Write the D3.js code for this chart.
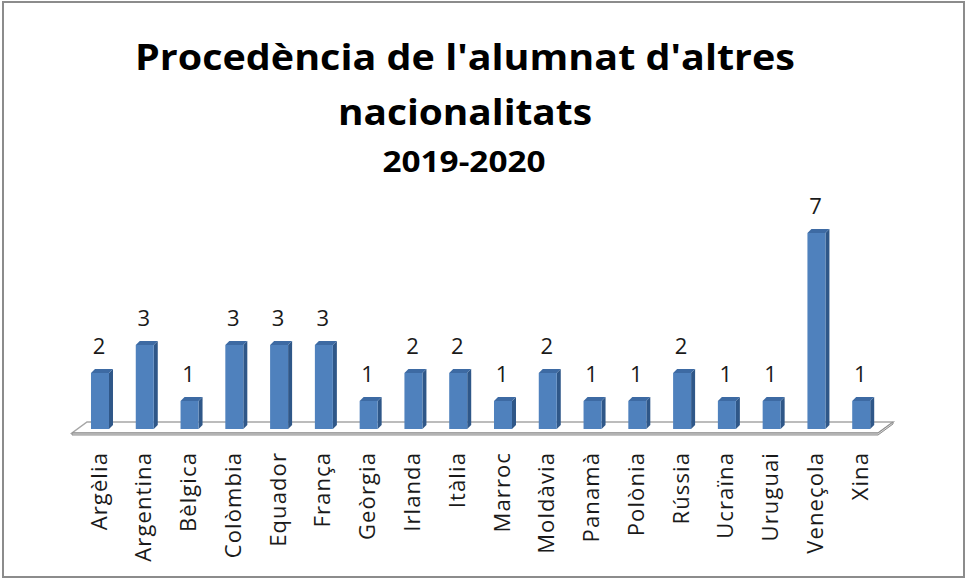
<!DOCTYPE html>
<html>
<head>
<meta charset="utf-8">
<script src="https://cdn.jsdelivr.net/npm/d3@7"></script>
<style>
  body { margin: 0; background: #fff; }
  svg { display: block; }
</style>
</head>
<body>
<div id="grafico"></div>
<script>
// Dades del gràfic
var paisos = ["Argèlia", "Argentina", "Bèlgica", "Colòmbia", "Equador", "França", "Geòrgia", "Irlanda", "Itàlia",
  "Marroc", "Moldàvia", "Panamà", "Polònia", "Rússia", "Ucraïna", "Uruguai", "Veneçola", "Xina"];
var alumnes = [2, 3, 1, 3, 3, 3, 1, 2, 2, 1, 2, 1, 1, 2, 1, 1, 7, 1];
var titol = ["Procedència de l'alumnat d'altres", "nacionalitats"];
var subtitol = "2019-2020";

var width = 967;
var height = 580;

var svg = d3.select("#grafico")
  .append("svg")
  .attr("width", width)
  .attr("height", height);

// marc exterior
svg.append("rect")
  .attr("x", 3).attr("y", 2)
  .attr("width", 961).attr("height", 575)
  .attr("fill", "#fff")
  .attr("stroke", "#8c8c8c")
  .attr("stroke-width", 2);

// títol
var font = "'Open Sans', 'Noto Sans', sans-serif";
svg.append("text")
  .attr("x", 465).attr("y", 70)
  .attr("text-anchor", "middle")
  .attr("font-family", font).attr("font-weight", "bold").attr("font-size", 36)
  .attr("textLength", 660).attr("lengthAdjust", "spacingAndGlyphs")
  .text(titol[0]);
svg.append("text")
  .attr("x", 465).attr("y", 125)
  .attr("text-anchor", "middle")
  .attr("font-family", font).attr("font-weight", "bold").attr("font-size", 36)
  .attr("textLength", 254).attr("lengthAdjust", "spacingAndGlyphs")
  .text(titol[1]);
svg.append("text")
  .attr("x", 464).attr("y", 172)
  .attr("text-anchor", "middle")
  .attr("font-family", font).attr("font-weight", "bold").attr("font-size", 28)
  .attr("textLength", 163).attr("lengthAdjust", "spacingAndGlyphs")
  .text(subtitol);

// escales
var x = d3.scaleBand().domain(paisos).range([72, 878]);
var y = d3.scaleLinear().domain([0, 7]).range([429, 233]);

// profunditat del terra i de les barres
var fons = { dx: 15, dy: -11 };
var despl = { dx: 5.6, dy: 0 };
var amplada = 18;
var prof = 4;

// terra 3D
var yTerra = 433;
var x0 = x.range()[0], x1 = x.range()[1];
svg.append("path")
  .attr("d", "M" + x0 + "," + yTerra + "L" + x1 + "," + yTerra +
    "L" + (x1 + fons.dx) + "," + (yTerra + fons.dy) +
    "L" + (x0 + fons.dx) + "," + (yTerra + fons.dy) + "Z")
  .attr("fill", "#fff")
  .attr("stroke", "#a6a6a6")
  .attr("stroke-width", 1.5);
svg.append("path")
  .attr("d", "M" + x0 + "," + yTerra + "L" + x1 + "," + yTerra +
    "L" + (x1 + fons.dx) + "," + (yTerra + fons.dy) +
    "L" + (x1 + fons.dx) + "," + (yTerra + fons.dy + 2) +
    "L" + x1 + "," + (yTerra + 2) + "L" + x0 + "," + (yTerra + 2) + "Z")
  .attr("fill", "#d9d9d9")
  .attr("stroke", "#8c8c8c")
  .attr("stroke-width", 1);

var dades = paisos.map(function(p, i) { return { pais: p, valor: alumnes[i] }; });

var barres = svg.selectAll(".barra")
  .data(dades)
  .enter()
  .append("g")
  .attr("class", "barra");

function esquerra(d) { return x(d.pais) + x.bandwidth() / 2 + despl.dx - amplada / 2; }

// cara lateral
barres.append("path")
  .attr("d", function(d) {
    var xr = esquerra(d) + amplada, yt = y(d.valor), yb = y(0);
    return "M" + xr + "," + yb + "L" + xr + "," + yt + "L" + (xr + prof) + "," + (yt - prof) +
      "L" + (xr + prof) + "," + (yb - prof) + "Z";
  })
  .attr("fill", "#2f5788");

// cara superior
barres.append("path")
  .attr("d", function(d) {
    var xl = esquerra(d), yt = y(d.valor);
    return "M" + xl + "," + yt + "L" + (xl + amplada) + "," + yt + "L" + (xl + amplada + prof) + "," + (yt - prof) +
      "L" + (xl + prof) + "," + (yt - prof) + "Z";
  })
  .attr("fill", "#3d6aa3");

// cara frontal
barres.append("rect")
  .attr("x", esquerra)
  .attr("y", function(d) { return y(d.valor); })
  .attr("width", amplada)
  .attr("height", function(d) { return y(0) - y(d.valor); })
  .attr("fill", "#4f81bd");

// etiquetes de valor
barres.append("text")
  .attr("x", function(d) { return esquerra(d) + amplada / 2 - 1; })
  .attr("y", function(d) { return y(d.valor) - prof - 15; })
  .attr("text-anchor", "middle")
  .attr("font-family", font)
  .attr("font-size", 22)
  .attr("fill", "#1a1a1a")
  .text(function(d) { return d.valor; });

// eix de categories
var eix = svg.append("g")
  .attr("transform", "translate(" + despl.dx + ",452)")
  .call(d3.axisBottom(x).tickSize(0).tickPadding(0));
eix.select(".domain").remove();
eix.selectAll("text")
  .attr("font-family", font)
  .attr("font-size", 22)
  .attr("letter-spacing", 1.1)
  .attr("fill", "#1a1a1a")
  .attr("text-anchor", "end")
  .attr("transform", "rotate(-90)")
  .attr("x", 0)
  .attr("y", 0)
  .attr("dy", "0.3em");
</script>
</body>
</html>
